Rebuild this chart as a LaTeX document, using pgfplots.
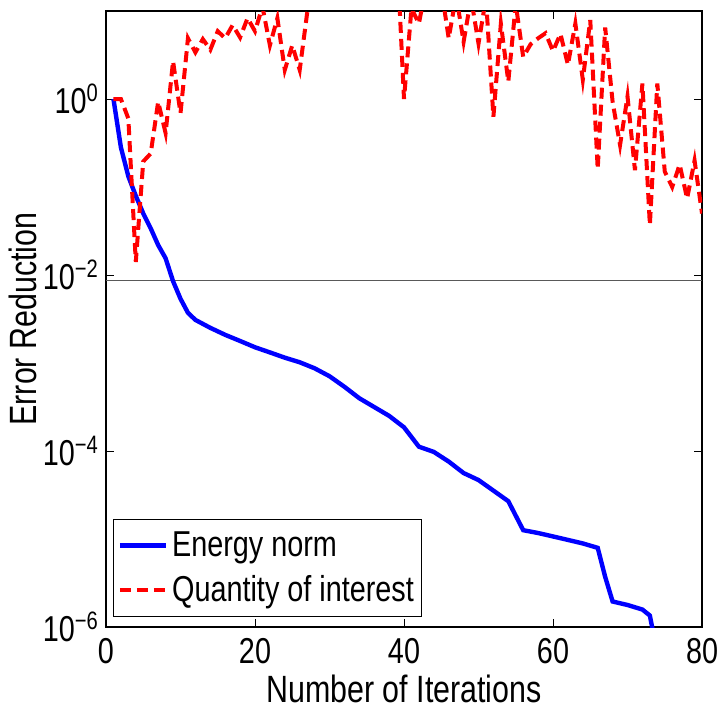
\documentclass[border=0pt]{standalone}
\usepackage{fontspec}
\setmainfont{Liberation Sans}[FakeStretch=0.8]
\usepackage{pgfplots}
\pgfplotsset{compat=1.18}

\begin{document}
\begin{tikzpicture}
\begin{axis}[
    scale only axis,
    width=298pt, height=308pt,
    xmin=0, xmax=80,
    ymode=log, ymin=1e-6, ymax=10,
    xtick={0,20,40,60,80},
    ytick={1e-6,1e-4,1e-2,1},
    yticklabels={10\textsuperscript{−6},10\textsuperscript{−4},10\textsuperscript{−2},10\textsuperscript{0}},
    yminorticks=false,
    tick align=inside,
    major tick length=4pt,
    tick style={black, line width=0.5pt},
    axis line style={line width=1pt},
    /pgf/number format/assume math mode=true,
    ticklabel style={font=\fontsize{18}{19}\selectfont},
    xticklabel style={yshift=-2pt},
    label style={font=\fontsize{19}{20}\selectfont},
    xlabel={Number of Iterations},
    ylabel={Error Reduction},
    xlabel style={yshift=1pt},
    ylabel style={yshift=-4pt},
    legend cell align=left,
    legend style={at={(0.012,0.016)}, anchor=south west, draw=black, line width=0.6pt,
        font=\fontsize{18}{20}\selectfont, inner xsep=2pt, inner ysep=4pt, row sep=4pt},
    legend image code/.code={\draw[#1] (0pt,0pt) -- (23pt,0pt);},
]
\addplot[gray!70!black, line width=0.8pt, forget plot] coordinates {(0,0.0087) (80,0.0087)};

\addplot[blue, line width=2.2pt] coordinates {
(1,1) (2,0.282) (3,0.132) (4,0.0794) (5,0.0501) (6,0.0339) (7,0.0219) (8,0.0155)
(9,0.00851) (10,0.00537) (11,0.00372) (12,0.00309) (14,0.00251) (16,0.00209)
(18,0.00178) (20,0.00151) (22,0.00132) (24,0.00115) (26,0.00102) (28,8.71e-4)
(30,7.08e-4) (32,5.37e-4) (34,3.98e-4) (36,3.16e-4) (38,2.51e-4) (40,1.86e-4)
(42,1.12e-4) (44,9.77e-5) (46,7.59e-5) (48,5.62e-5) (50,4.68e-5) (52,3.55e-5)
(54,2.69e-5) (56,1.26e-5) (58,1.17e-5) (60,1.07e-5) (62,9.77e-6) (64,8.91e-6)
(66,7.94e-6) (67,3.72e-6) (68,1.95e-6) (70,1.78e-6) (72,1.58e-6) (73,1.35e-6) (74,5.0e-7)
};
\addlegendentry{Energy norm}

\addplot[red, line width=2pt, dash pattern=on 5.5pt off 3pt] coordinates {
(1,1) (2,1) (3,0.60) (4,0.0141) (5,0.195) (6,0.24) (7,0.93) (8,0.41) (9,2.69) (10,0.69)
(11,4.9) (12,3.39) (13,4.79) (14,3.63) (15,5.89) (16,4.9) (17,6.92) (18,5.0) (19,8.3) (20,5.9)
(21,11.2) (22,4.07) (23,8.3) (24,2.14) (25,4.07) (26,2.14) (27,9.5) (28,20) (29,30) (30,25)
(31,40) (32,30) (33,50) (34,35) (35,45) (36,30) (37,40) (38,35) (39,60) (40,1.0)
(41,10.7) (42,7.2) (43,20) (44,25) (45,18) (46,4.9) (47,15) (48,4.47) (49,14) (50,4.27)
(51,14) (52,0.63) (53,7.2) (54,1.58) (55,12) (56,3.0) (57,4.2) (58,4.9) (59,5.6) (60,3.5)
(61,5.5) (62,2.45) (63,7.2) (64,1.66) (65,7.9) (66,0.16) (67,6.5) (68,0.93) (69,0.30) (70,1.07)
(71,0.155) (72,1.5) (73,0.037) (74,1.5) (75,0.15) (76,0.10) (77,0.18) (78,0.074) (79,0.20) (80,0.05)
};
\addlegendentry{Quantity of interest}
\end{axis}
\pgfresetboundingbox
\path (current axis.south west) +(-53pt,-40.5pt) (current axis.north east) +(8.5pt,5.5pt);
\end{tikzpicture}
\end{document}
